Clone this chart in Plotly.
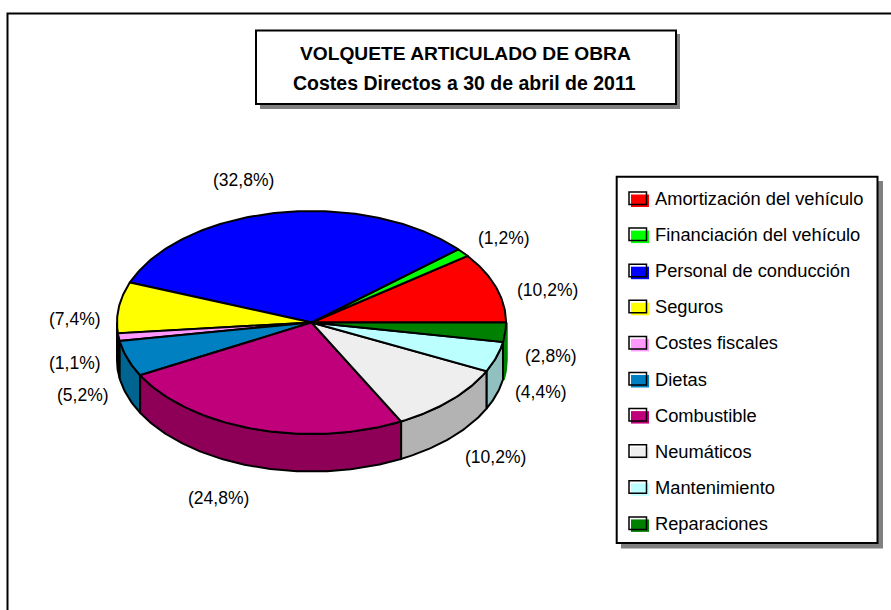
import math
import plotly.graph_objects as go

categories = ["Amortización del vehículo", "Financiación del vehículo", "Personal de conducción",
              "Seguros", "Costes fiscales", "Dietas", "Combustible", "Neumáticos",
              "Mantenimiento", "Reparaciones"]
values = [10.2, 1.2, 32.8, 7.4, 1.1, 5.2, 24.8, 10.2, 4.4, 2.8]
top_colors = ["#FF0000", "#00FF00", "#0000FF", "#FFFF00", "#FF99FF", "#0080C0", "#C0007A", "#EEEEEE", "#BBFFFF", "#008000"]
side_colors = ["#990000", "#009900", "#000099", "#999900", "#995C99", "#006490", "#8E0058", "#B3B3B3", "#90C0C0", "#008000"]
labels = ["(10,2%)", "(1,2%)", "(32,8%)", "(7,4%)", "(1,1%)", "(5,2%)", "(24,8%)", "(10,2%)", "(4,4%)", "(2,8%)"]
label_x = [547, 504, 243, 75, 75, 83, 218, 495, 541, 551]
label_y = [290, 238, 180, 319, 363, 395, 498, 457, 392, 356]
title_1 = "VOLQUETE ARTICULADO DE OBRA"
title_2 = "Costes Directos a 30 de abril de 2011"

CX, CY, RX, RY, DEPTH = 311.5, 322.5, 194.5, 111.5, 37.5
FONT = "Liberation Sans"

def pt(t, dz=0.0):
    r = math.radians(t)
    return CX + RX * math.cos(r), CY - RY * math.sin(r) + dz

def arc(t0, t1, dz=0.0):
    n = max(2, int(abs(t1 - t0)) + 2)
    return [pt(t0 + (t1 - t0) * i / (n - 1), dz) for i in range(n)]

total = sum(values)
edges = [0.0]
for v in values:
    edges.append(edges[-1] + v / total * 360)

fig = go.Figure()

def poly(points, fill, width=2.0, line="#000000"):
    xs = [p[0] for p in points] + [points[0][0]]
    ys = [p[1] for p in points] + [points[0][1]]
    fig.add_trace(go.Scatter(x=xs, y=ys, mode="lines", fill="toself", fillcolor=fill,
                             line=dict(color=line, width=width), hoverinfo="skip", showlegend=False))

# side walls, left and right toward the front
last = len(values) - 1
order = sorted(range(len(values)), key=lambda i: -abs(((edges[i] + edges[i + 1]) / 2) - 270))
for i in order:
    a = max(edges[i], 180)
    b = min(edges[i + 1], 360)
    if b > a:
        if i == last:
            poly(arc(a, b) + arc(b, a, DEPTH), side_colors[i], width=3.5, line=side_colors[i])
        else:
            poly(arc(a, b) + arc(b, a, DEPTH), side_colors[i])
for i in range(len(values)):
    poly([(CX, CY)] + arc(edges[i], edges[i + 1]), top_colors[i])

# slice labels
for t, x, y in zip(labels, label_x, label_y):
    fig.add_annotation(x=x, y=y, text=t, showarrow=False, font=dict(family=FONT, size=17.5, color="#000000"))

shapes = [
    dict(type="rect", x0=7.5, y0=13.5, x1=900, y1=620, line=dict(color="#000000", width=2), fillcolor="rgba(0,0,0,0)"),
    dict(type="rect", x0=260, y0=34, x1=680, y1=109, line=dict(width=0), fillcolor="#808080"),
    dict(type="rect", x0=256, y0=30.5, x1=676, y1=104, line=dict(color="#000000", width=2), fillcolor="#FFFFFF"),
    dict(type="rect", x0=621, y0=181, x1=883, y1=548.5, line=dict(width=0), fillcolor="#808080"),
    dict(type="rect", x0=616.7, y0=176.7, x1=877.5, y1=543, line=dict(color="#000000", width=2), fillcolor="#FFFFFF"),
]
row0, row_step = 198.0, 36.1
for i, name in enumerate(categories):
    y = row0 + i * row_step
    shapes.append(dict(type="rect", x0=631, y0=y - 3.5, x1=649, y1=y + 9, line=dict(width=0), fillcolor=top_colors[i]))
    shapes.append(dict(type="rect", x0=629, y0=y - 6, x1=646.5, y1=y + 6.5, line=dict(color="#000000", width=1.5), fillcolor="rgba(0,0,0,0)"))
    fig.add_annotation(x=653, y=y + 0.5, text=name, showarrow=False, xanchor="left",
                       font=dict(family=FONT, size=18.3, color="#000000"))

fig.add_annotation(x=465, y=53, text="<b>%s</b>" % title_1, showarrow=False, font=dict(family=FONT, size=19.2, color="#000000"))
fig.add_annotation(x=464, y=83, text="<b>%s</b>" % title_2, showarrow=False, font=dict(family=FONT, size=19.5, color="#000000"))

fig.update_layout(
    width=891, height=610, autosize=False, margin=dict(l=0, r=0, t=0, b=0),
    paper_bgcolor="#FFFFFF", plot_bgcolor="#FFFFFF", shapes=shapes, showlegend=False,
    xaxis=dict(range=[0, 891], visible=False, fixedrange=True),
    yaxis=dict(range=[610, 0], visible=False, fixedrange=True),
)
fig.write_html("out.html", config=dict(displayModeBar=False),
               post_script="document.body.style.margin='0';document.documentElement.style.overflow='hidden';")
